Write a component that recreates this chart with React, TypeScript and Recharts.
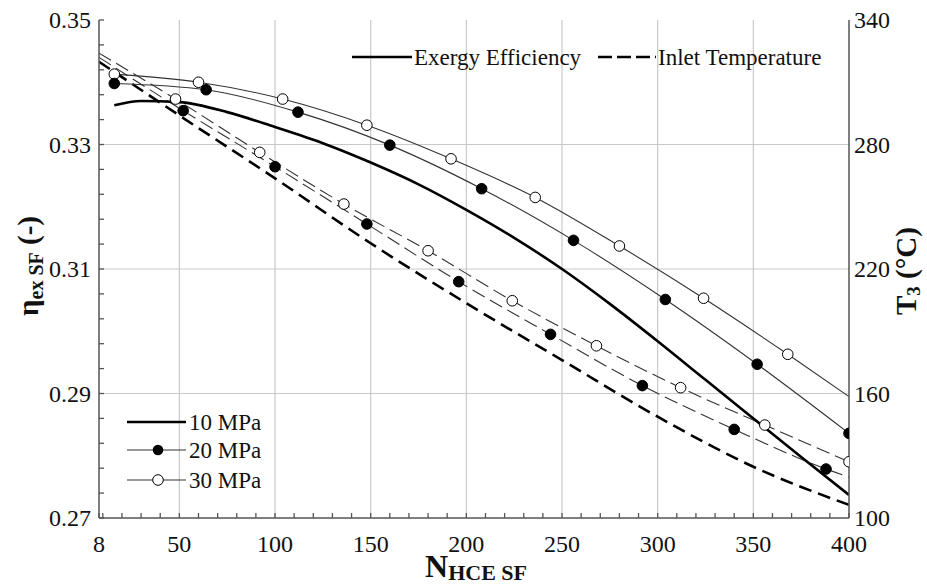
import { ComposedChart, Line, XAxis, YAxis, ReferenceLine } from 'recharts'

// exergy efficiency (left axis)
const ex10N = [16, 30, 50, 75, 100, 125, 150, 175, 200, 225, 250, 275, 300, 325, 350, 375, 400]
const ex10 = [0.3363, 0.337, 0.3368, 0.3352, 0.3328, 0.3302, 0.3271, 0.3236, 0.3195, 0.315, 0.31, 0.3044, 0.2984, 0.2922, 0.286, 0.2798, 0.2737]
const ex20N = [16, 64, 112, 160, 208, 256, 304, 352, 400]
const ex20 = [0.3398, 0.3388, 0.3352, 0.3299, 0.3229, 0.3146, 0.3051, 0.2947, 0.2836]
const ex30N = [16, 60, 104, 148, 192, 236, 280, 324, 368, 400]
const ex30 = [0.3413, 0.34, 0.3373, 0.3331, 0.3277, 0.3215, 0.3137, 0.3053, 0.2963, 0.2895]

// inlet temperature (right axis, °C)
const t10N = [8, 50, 100, 150, 200, 250, 300, 350, 400]
const t10 = [319.9, 294.0, 263.7, 232.4, 203.5, 176.1, 148.8, 124.7, 106.3]
const t20N = [8, 52, 100, 148, 196, 244, 292, 340, 388, 400]
const t20 = [322.0, 296.3, 269.3, 241.7, 213.9, 188.5, 163.8, 142.7, 123.6, 119.7]
const t30N = [8, 48, 92, 136, 180, 224, 268, 312, 356, 400]
const t30 = [324.0, 301.9, 276.2, 251.3, 228.8, 204.7, 183.0, 162.8, 144.8, 127.1]

const xLabels = [8, 50, 100, 150, 200, 250, 300, 350, 400]
const xGrid = [50, 100, 150, 200, 250, 300, 350]
const etaLabels = [0.27, 0.29, 0.31, 0.33, 0.35]
const etaGrid = [0.29, 0.31, 0.33]
const tempLabels = [100, 160, 220, 280, 340]

const xTicks = [8, ...Array.from({ length: 40 }, (_, i) => (i + 1) * 10)]
const etaTicks = Array.from({ length: 21 }, (_, i) => Math.round((0.27 + i * 0.004) * 1000) / 1000)

const FONT = 'Liberation Serif, Times New Roman, Times, serif'
const AXIS = '#555'
const GRID = '#c9c9c9'
const txt = { fontFamily: FONT }

const rows = (ns: number[], vs: number[]) => ns.map((n, i) => ({ n, v: vs[i] }))

const isLabel = (v: number, labels: number[]) => labels.some(l => Math.abs(l - v) < 1e-6)

function BottomTick(props: any) {
  const { x, y, payload } = props
  const v = payload.value
  return (
    <g>
      <line x1={x} x2={x} y1={y} y2={y - 5} stroke={AXIS} strokeWidth={1.3} />
      {isLabel(v, xLabels) && (
        <text x={x} y={y + 34} textAnchor="middle" style={txt} fontSize={24} fill="#111">{v}</text>
      )}
    </g>
  )
}

function TopTick(props: any) {
  const { x, y } = props
  return <line x1={x} x2={x} y1={y} y2={y + 5} stroke={AXIS} strokeWidth={1.3} />
}

function LeftTick(props: any) {
  const { x, y, payload } = props
  const v = payload.value
  return (
    <g>
      <line x1={x} x2={x + 5} y1={y} y2={y} stroke={AXIS} strokeWidth={1.3} />
      {isLabel(v, etaLabels) && (
        <text x={x - 8} y={y + 8} textAnchor="end" style={txt} fontSize={24} fill="#111">{v.toFixed(2)}</text>
      )}
    </g>
  )
}

function RightTick(props: any) {
  const { x, y, payload } = props
  return (
    <text x={x + 5} y={y + 8} textAnchor="start" style={txt} fontSize={24} fill="#111">{payload.value}</text>
  )
}

const dotFor = (filled: boolean, skip: number[]) => (props: any) => {
  const { cx, cy, index } = props
  if (skip.includes(index) || cx == null || cy == null) return <g key={`d${index}`} />
  return (
    <circle key={`d${index}`} cx={cx} cy={cy} r={5.3}
      fill={filled ? '#000' : '#fff'} stroke="#000" strokeWidth={1} />
  )
}

function Overlay() {
  return (
    <svg width={927} height={585} style={{ position: 'absolute', left: 0, top: 0, pointerEvents: 'none' }}>
      {/* top legend */}
      <line x1={352} x2={412} y1={57} y2={57} stroke="#000" strokeWidth={2.6} />
      <text x={414} y={65} style={txt} fontSize={23} fill="#111">Exergy Efficiency</text>
      <line x1={598} x2={656} y1={57} y2={57} stroke="#000" strokeWidth={2.6} strokeDasharray="14 5" />
      <text x={658} y={65} style={txt} fontSize={23} fill="#111">Inlet Temperature</text>

      {/* pressure legend */}
      <line x1={127} x2={186} y1={422} y2={422} stroke="#000" strokeWidth={2.6} />
      <text x={189} y={430} style={txt} fontSize={23} fill="#111">10 MPa</text>
      <line x1={127} x2={186} y1={450} y2={450} stroke="#333" strokeWidth={1.2} />
      <circle cx={158} cy={450} r={5.3} fill="#000" />
      <text x={189} y={458} style={txt} fontSize={23} fill="#111">20 MPa</text>
      <line x1={127} x2={186} y1={480} y2={480} stroke="#333" strokeWidth={1.2} />
      <circle cx={158} cy={480} r={5.3} fill="#fff" stroke="#000" strokeWidth={1} />
      <text x={189} y={488} style={txt} fontSize={23} fill="#111">30 MPa</text>

      {/* axis titles */}
      <text transform="rotate(-90, 38, 266)" x={38} y={266} textAnchor="middle" style={txt} fontWeight="bold" fontSize={29} fill="#111">
        η<tspan fontSize={20} dy={5}>ex SF</tspan><tspan dy={-5}> (-)</tspan>
      </text>
      <text transform="rotate(-90, 916, 271)" x={916} y={271} textAnchor="middle" style={txt} fontWeight="bold" fontSize={29} fill="#111">
        T<tspan fontSize={19} dy={4}>3</tspan><tspan dy={-4}> (°C)</tspan>
      </text>
      <text x={476} y={577} textAnchor="middle" style={txt} fontWeight="bold" fontSize={32} fill="#111">
        N<tspan fontSize={22} dy={3}>HCE SF</tspan>
      </text>
    </svg>
  )
}

export default function App() {
  return (
    <div style={{ position: 'relative', width: 927, height: 585, background: '#fff', fontFamily: FONT }}>
      <style>{'body{margin:0}'}</style>
      <ComposedChart width={927} height={585} margin={{ top: 20, right: 0, bottom: 0, left: 0 }}>
        <XAxis xAxisId={0} dataKey="n" type="number" domain={[8, 400]} allowDataOverflow ticks={xTicks} interval={0}
          height={67} tickSize={0} tickMargin={0} tickLine={false} stroke={AXIS} strokeWidth={1.5} tick={<BottomTick />} />
        <XAxis xAxisId="top" orientation="top" dataKey="n" type="number" domain={[8, 400]} allowDataOverflow ticks={xTicks} interval={0}
          height={0} tickSize={0} tickMargin={0} tickLine={false} stroke={AXIS} strokeWidth={1.5} tick={<TopTick />} />
        <YAxis yAxisId="eta" orientation="left" type="number" domain={[0.27, 0.35]} allowDataOverflow ticks={etaTicks} interval={0}
          width={99} tickSize={0} tickMargin={0} tickLine={false} stroke={AXIS} strokeWidth={1.5} tick={<LeftTick />} />
        <YAxis yAxisId="temp" orientation="right" type="number" domain={[100, 340]} allowDataOverflow ticks={tempLabels} interval={0}
          width={78} tickSize={0} tickMargin={0} tickLine={false} stroke={AXIS} strokeWidth={1.5} tick={<RightTick />} />

        {xGrid.map(v => (
          <ReferenceLine key={`gx${v}`} x={v} yAxisId="eta" stroke={GRID} strokeWidth={1.2} />
        ))}
        {etaGrid.map(v => (
          <ReferenceLine key={`gy${v}`} y={v} yAxisId="eta" stroke={GRID} strokeWidth={1.2} />
        ))}

        <Line data={rows(t30N, t30)} dataKey="v" yAxisId="temp" type="monotone" stroke="#333" strokeWidth={1.1}
          strokeDasharray="14 6" dot={dotFor(false, [0])} isAnimationActive={false} />
        <Line data={rows(t20N, t20)} dataKey="v" yAxisId="temp" type="monotone" stroke="#333" strokeWidth={1.1}
          strokeDasharray="14 6" dot={dotFor(true, [0, 9])} isAnimationActive={false} />
        <Line data={rows(t10N, t10)} dataKey="v" yAxisId="temp" type="monotone" stroke="#000" strokeWidth={2.6}
          strokeDasharray="13 7" dot={false} isAnimationActive={false} />

        <Line data={rows(ex30N, ex30)} dataKey="v" yAxisId="eta" type="monotone" stroke="#333" strokeWidth={1.1}
          dot={dotFor(false, [9])} isAnimationActive={false} />
        <Line data={rows(ex20N, ex20)} dataKey="v" yAxisId="eta" type="monotone" stroke="#333" strokeWidth={1.1}
          dot={dotFor(true, [])} isAnimationActive={false} />
        <Line data={rows(ex10N, ex10)} dataKey="v" yAxisId="eta" type="monotone" stroke="#000" strokeWidth={2.6}
          dot={false} isAnimationActive={false} />
      </ComposedChart>
      <Overlay />
    </div>
  )
}
